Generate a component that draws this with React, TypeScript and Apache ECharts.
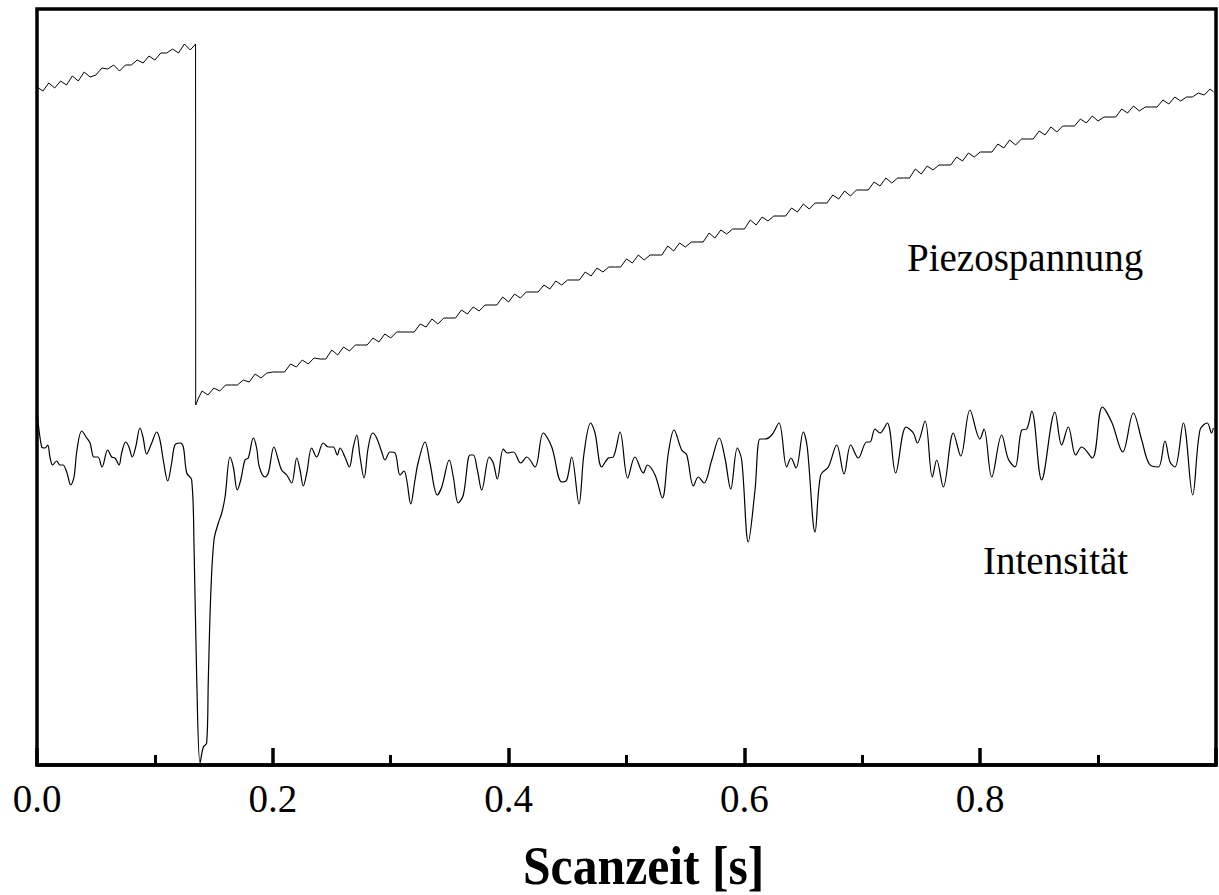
import React, { useEffect, useRef } from "react";
import * as echarts from "echarts";

// x: Scanzeit [s], y: arbitrary units (0 = lower edge, 756 = upper edge of the plot)
const xTicks = [0.0, 0.2, 0.4, 0.6, 0.8];

const intensityPoints: [number, number][] = [
  [0.000,355],[0.004,318],[0.0068,317],[0.0091,320],[0.011,308],[0.0133,300],[0.0167,304],[0.0195,300],[0.022,300],[0.0252,293],
  [0.0286,280],[0.0314,288],[0.0339,315],[0.0379,334],[0.0422,327],[0.045,322],[0.0483,308],[0.0517,308],[0.0551,298],[0.06,315],
  [0.0634,308],[0.0662,307],[0.0696,300],[0.0718,312],[0.0752,323],[0.078,318],[0.0808,308],[0.0837,318],[0.0874,337],[0.0899,328],
  [0.093,311],[0.0973,322],[0.1015,333],[0.1043,325],[0.1071,305],[0.1109,284],[0.1142,302],[0.117,320],[0.1213,322],[0.1241,318],
  [0.127,292],[0.1312,285],[0.1332,218],[0.1355,85],[0.1383,2],[0.1411,18],[0.1439,22],[0.1453,85],[0.1473,168],[0.1501,225],
  [0.1538,242],[0.1567,252],[0.1595,268],[0.1637,308],[0.1665,298],[0.1699,275],[0.1728,285],[0.1764,305],[0.1792,307],[0.1835,327],
  [0.1863,317],[0.1886,298],[0.1934,288],[0.1962,292],[0.201,318],[0.2047,305],[0.2075,295],[0.2118,290],[0.216,282],[0.2203,307],
  [0.2231,295],[0.2259,279],[0.2288,292],[0.233,317],[0.2372,308],[0.2428,322],[0.2471,318],[0.2513,318],[0.2547,310],[0.257,317],
  [0.2612,308],[0.2649,298],[0.2683,318],[0.2712,330],[0.274,308],[0.2774,287],[0.281,318],[0.2847,332],[0.2881,327],[0.2924,313],
  [0.2952,305],[0.2994,313],[0.3037,312],[0.3079,290],[0.3113,294],[0.3136,285],[0.317,261],[0.3206,285],[0.3234,303],[0.3291,323],
  [0.3333,302],[0.3395,270],[0.3433,278],[0.3497,305],[0.3531,288],[0.3573,262],[0.3616,270],[0.3673,310],[0.3701,310],[0.3735,295],
  [0.3772,275],[0.3836,308],[0.387,302],[0.3904,286],[0.3955,316],[0.3989,312],[0.404,313],[0.4103,302],[0.4154,308],[0.4224,298],
  [0.4294,332],[0.4366,318],[0.445,283],[0.4493,285],[0.4535,308],[0.4597,261],[0.464,312],[0.4696,342],[0.4733,332],[0.479,298],
  [0.4846,307],[0.4888,308],[0.4945,333],[0.501,287],[0.5072,308],[0.5143,292],[0.5177,300],[0.5242,290],[0.5304,267],[0.5355,312],
  [0.5403,335],[0.5468,315],[0.5511,310],[0.5567,279],[0.5609,288],[0.5657,282],[0.5723,305],[0.5787,327],[0.5835,307],[0.5884,276],
  [0.594,317],[0.5977,305],[0.6033,223],[0.609,275],[0.6132,326],[0.6175,326],[0.6232,330],[0.6293,342],[0.6359,298],[0.6395,307],
  [0.6438,297],[0.65,333],[0.6533,318],[0.6599,233],[0.6647,290],[0.6712,298],[0.6783,320],[0.6845,291],[0.6902,320],[0.6966,307],
  [0.7037,323],[0.7065,323],[0.7108,336],[0.715,332],[0.7212,342],[0.7283,292],[0.7371,338],[0.7433,332],[0.7467,322],[0.7532,344],
  [0.7594,288],[0.7631,305],[0.7687,278],[0.7772,332],[0.7835,309],[0.7913,355],[0.7998,326],[0.8032,336],[0.8098,288],[0.8182,330],
  [0.8238,306],[0.8295,298],[0.8352,335],[0.8394,336],[0.8437,354],[0.8521,285],[0.8634,353],[0.8691,320],[0.8747,338],[0.881,310],
  [0.8861,318],[0.8951,307],[0.9036,358],[0.9115,343],[0.9209,313],[0.9299,352],[0.937,325],[0.9434,301],[0.9511,298],[0.9567,324],
  [0.961,303],[0.9652,298],[0.9723,342],[0.9802,270],[0.9864,335],[0.9926,342],[0.9963,332],[0.9977,337],
];

const piezoPoints: [number, number][] = [
  [0,678],[0.005,674],[0.01,682],[0.015,677],[0.02,684],[0.025,680],[0.03,689],[0.035,684],[0.04,693],[0.045,688],
  [0.05,690],[0.055,697],[0.06,696],[0.065,700],[0.07,694],[0.075,700],[0.08,700],[0.085,705],[0.09,702],[0.095,709],
  [0.1,705],[0.105,712],[0.11,712],[0.115,716],[0.12,712],[0.125,721],[0.13,715],[0.1345,721],[0.1346,360],[0.137,367],
  [0.14,374],[0.145,370],[0.15,377],[0.155,374],[0.16,380],[0.165,380],[0.17,380],[0.175,385],[0.18,383],[0.185,391],
  [0.19,387],[0.195,392],[0.2,393],[0.205,393],[0.21,393],[0.215,401],[0.22,398],[0.225,405],[0.23,401],[0.235,407],
  [0.24,406],[0.245,406],[0.25,415],[0.255,410],[0.26,418],[0.265,414],[0.27,420],[0.275,420],[0.28,420],[0.285,427],
  [0.29,423],[0.295,431],[0.3,427],[0.305,433],[0.31,433],[0.315,433],[0.32,433],[0.325,441],[0.33,438],[0.335,446],
  [0.34,441],[0.345,447],[0.35,447],[0.355,447],[0.36,455],[0.365,451],[0.37,458],[0.375,454],[0.38,460],[0.385,460],
  [0.39,460],[0.395,468],[0.4,463],[0.405,471],[0.41,467],[0.415,473],[0.42,473],[0.425,473],[0.43,480],[0.435,476],
  [0.44,484],[0.445,480],[0.45,485],[0.455,485],[0.46,485],[0.465,493],[0.47,489],[0.475,497],[0.48,493],[0.485,498],
  [0.49,498],[0.495,498],[0.5,506],[0.505,502],[0.51,510],[0.515,505],[0.52,510],[0.525,510],[0.53,510],[0.535,519],
  [0.54,514],[0.545,522],[0.55,518],[0.555,523],[0.56,523],[0.565,523],[0.57,532],[0.575,527],[0.58,535],[0.585,531],
  [0.59,536],[0.595,536],[0.6,536],[0.605,545],[0.61,540],[0.615,548],[0.62,544],[0.625,549],[0.63,549],[0.635,549],
  [0.64,557],[0.645,553],[0.65,561],[0.655,556],[0.66,562],[0.665,562],[0.67,562],[0.675,570],[0.68,566],[0.685,574],
  [0.69,569],[0.695,575],[0.7,575],[0.705,575],[0.71,583],[0.715,579],[0.72,587],[0.725,582],[0.73,587],[0.735,587],
  [0.74,587],[0.745,596],[0.75,591],[0.755,599],[0.76,595],[0.765,600],[0.77,600],[0.775,600],[0.78,608],[0.785,604],
  [0.79,612],[0.795,608],[0.8,613],[0.805,613],[0.81,613],[0.815,621],[0.82,617],[0.825,625],[0.83,620],[0.835,626],
  [0.84,626],[0.845,626],[0.85,634],[0.855,630],[0.86,638],[0.865,633],[0.87,639],[0.875,639],[0.88,639],[0.885,646],
  [0.89,642],[0.895,649],[0.9,644],[0.905,648],[0.91,648],[0.915,648],[0.92,656],[0.925,652],[0.93,659],[0.935,654],
  [0.94,658],[0.945,658],[0.95,658],[0.955,665],[0.96,661],[0.965,668],[0.97,664],[0.975,668],[0.98,668],[0.985,672],
  [0.99,670],[0.995,676],[0.998,673],
];

const xAxisTitle = "Scanzeit [s]";
const piezoLabel = "Piezospannung";
const intensityLabel = "Intensität";

const SERIF = "Liberation Serif, Times New Roman, Times, serif";

export default function App() {
  const ref = useRef<HTMLDivElement>(null);
  useEffect(() => {
    if (!ref.current) return;
    const chart = echarts.init(ref.current, undefined, { renderer: "svg" });
    chart.setOption({
      animation: false,
      backgroundColor: "#ffffff",
      textStyle: { fontFamily: SERIF },
      grid: {
        left: 37,
        right: 3,
        top: 9,
        bottom: 130,
        show: true,
        borderColor: "#000",
        borderWidth: 3.5,
        backgroundColor: "transparent",
      },
      xAxis: {
        type: "value",
        min: 0,
        max: 1,
        interval: 0.2,
        axisLine: { show: true, lineStyle: { color: "#000", width: 3.5 } },
        axisTick: { show: true, inside: true, length: 17, lineStyle: { color: "#000", width: 3.5 } },
        minorTick: { show: true, splitNumber: 2, length: 10, lineStyle: { color: "#000", width: 3 } },
        splitLine: { show: false },
        axisLabel: {
          show: true,
          margin: 14,
          color: "#000",
          fontFamily: SERIF,
          fontSize: 39,
          formatter: (v: number) => {
            const hit = xTicks.find((t) => Math.abs(t - v) < 1e-6);
            return hit === undefined ? "" : hit.toFixed(1);
          },
        },
      },
      yAxis: {
        type: "value",
        min: 0,
        max: 756,
        show: false,
      },
      series: [
        {
          name: piezoLabel,
          type: "line",
          data: piezoPoints,
          showSymbol: false,
          symbol: "none",
          silent: true,
          lineStyle: { color: "#000", width: 1 },
        },
        {
          name: intensityLabel,
          type: "line",
          data: intensityPoints,
          showSymbol: false,
          symbol: "none",
          silent: true,
          smooth: 0.35,
          lineStyle: { color: "#000", width: 1.2 },
        },
      ],
      graphic: [
        {
          type: "text",
          x: 907,
          y: 257,
          style: { text: piezoLabel, fontFamily: SERIF, fontSize: 39, fill: "#000", align: "left", verticalAlign: "middle" },
        },
        {
          type: "text",
          x: 983,
          y: 560,
          style: { text: intensityLabel, fontFamily: SERIF, fontSize: 39, fill: "#000", align: "left", verticalAlign: "middle" },
        },
        {
          type: "text",
          x: 523,
          y: 866,
          scaleX: 0.92,
          style: { text: xAxisTitle, fontFamily: SERIF, fontSize: 54, fontWeight: "bold", fill: "#000", align: "left", verticalAlign: "middle" },
        },
      ],
    });
    return () => chart.dispose();
  }, []);
  return (
    <div
      ref={ref}
      style={{ position: "absolute", left: 0, top: 0, width: 1219, height: 895, background: "#fff" }}
    />
  );
}
